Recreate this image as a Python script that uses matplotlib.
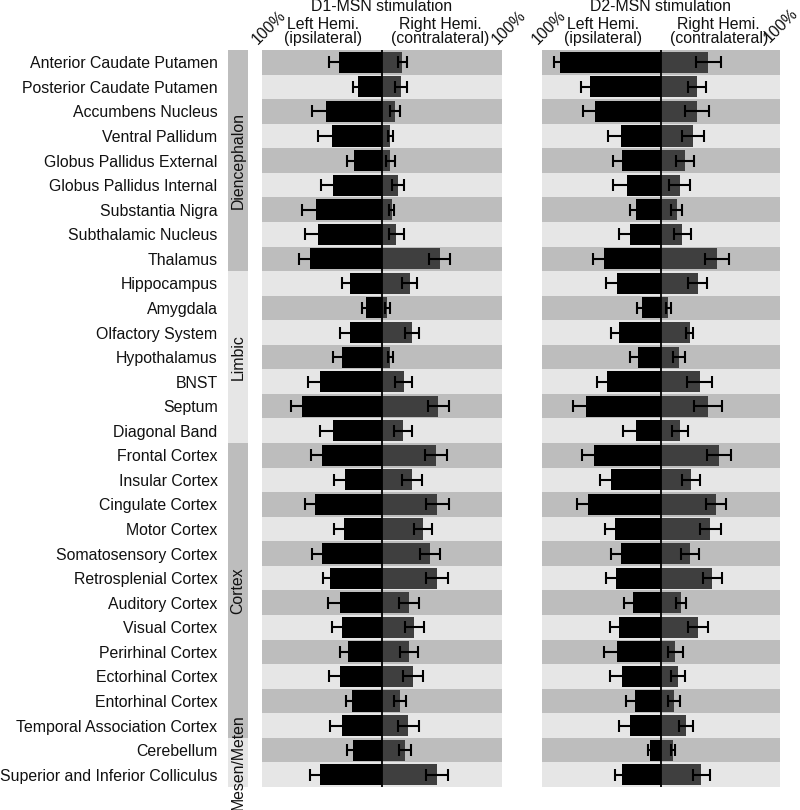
import matplotlib
matplotlib.use("Agg")
import matplotlib.pyplot as plt
import numpy as np

plt.rcParams["font.family"] = ["Liberation Sans", "DejaVu Sans"]

REGIONS = [
    "Anterior Caudate Putamen", "Posterior Caudate Putamen", "Accumbens Nucleus",
    "Ventral Pallidum", "Globus Pallidus External", "Globus Pallidus Internal",
    "Substantia Nigra", "Subthalamic Nucleus", "Thalamus",
    "Hippocampus", "Amygdala", "Olfactory System", "Hypothalamus", "BNST",
    "Septum", "Diagonal Band",
    "Frontal Cortex", "Insular Cortex", "Cingulate Cortex", "Motor Cortex",
    "Somatosensory Cortex", "Retrosplenial Cortex", "Auditory Cortex",
    "Visual Cortex", "Perirhinal Cortex", "Ectorhinal Cortex",
    "Entorhinal Cortex", "Temporal Association Cortex",
    "Cerebellum", "Superior and Inferior Colliculus",
]

GROUPS = ["Diencephalon", "Limbic", "Cortex", "Mesen/Meten"]
GROUP_SIZES = [9, 7, 12, 2]

# % of max, left (ipsilateral) and right (contralateral) hemisphere, with SEM
D1_LEFT = [36, 20, 47, 42, 23, 41, 55, 53, 60, 27, 13, 27, 33, 52, 67, 41,
           50, 31, 55.5, 32, 50, 43, 35, 33.5, 28, 35, 25, 33, 24, 51.6]
D1_LEFT_SEM = [8, 4, 11, 11, 6, 10, 12, 11, 9, 6, 4, 8, 8, 10, 9, 11,
               9, 9, 8.5, 8, 8.5, 6, 10, 8, 7, 9, 5, 10, 5, 8.4]
D1_RIGHT = [17, 16, 11, 7, 7, 13, 8, 12, 48, 23, 4.5, 25, 7, 18, 47, 17.5,
            45, 25, 46, 34, 40, 46, 22.6, 27, 22.6, 25.7, 15, 22, 19, 46]
D1_RIGHT_SEM = [4, 5, 4, 2, 4, 5, 2, 6, 9, 6, 2, 6, 2, 7, 9, 7.5,
                9, 8.5, 9.5, 7.5, 8, 9, 8.4, 7.6, 7.4, 8.3, 5, 9, 5, 9]

D2_LEFT = [85, 60, 55.5, 34, 33, 28.6, 21, 26, 48, 37, 16, 35, 19, 45, 63, 21,
           56.6, 42, 61, 39, 34, 37.5, 23.5, 35, 37, 33, 21.6, 26, 9, 33]
D2_LEFT_SEM = [5, 7, 10, 10.5, 7, 11.4, 5, 9, 9, 9, 4, 7, 7, 9, 11, 11,
               9.4, 9, 10, 8, 8, 8.5, 7.5, 7.6, 11, 9.6, 7.4, 9, 2, 6]
D2_RIGHT = [39.5, 30, 30, 27, 20.4, 15.6, 13.4, 18, 47, 31, 6, 24, 15, 32.5, 39.5, 16,
            49, 25.5, 46, 41.5, 24, 43, 17, 31, 12, 14, 10.6, 21, 10, 34]
D2_RIGHT_SEM = [10.5, 7.5, 10, 9, 7.6, 9, 4.6, 7, 10, 8, 2, 3, 5, 10.5, 12, 7,
                10, 7.5, 8.6, 8.5, 7.6, 8, 4, 8.5, 6.5, 6, 5, 6, 2, 7]

PANELS = [
    ("D1-MSN stimulation", D1_LEFT, D1_LEFT_SEM, D1_RIGHT, D1_RIGHT_SEM),
    ("D2-MSN stimulation", D2_LEFT, D2_LEFT_SEM, D2_RIGHT, D2_RIGHT_SEM),
]

DARK = "#bdbdbd"
LIGHT = "#e6e6e6"
RIGHT_COLOR = "#3f3f3f"
FS = 11.4

fig = plt.figure(figsize=(8, 8.1), dpi=100)
bottom, top = 0.0284, 0.9383
panel_x = [(0.3275, 0.300), (0.6775, 0.2975)]

n = len(REGIONS)
y = np.arange(n)

for i, (title, left, left_sem, right, right_sem) in enumerate(PANELS):
    x0, w = panel_x[i]
    ax = fig.add_axes([x0, bottom, w, top - bottom])
    for k in range(n):
        ax.axhspan(k - 0.5, k + 0.5, color=DARK if k % 2 == 0 else LIGHT, lw=0, zorder=0)
    ax.barh(y, -np.array(left), height=0.86, color="black", zorder=2)
    ax.barh(y, right, height=0.86, color=RIGHT_COLOR, zorder=2)
    ax.errorbar(-np.array(left), y, xerr=left_sem, fmt="none", ecolor="black",
                elinewidth=1.5, capsize=4.3, capthick=1.5, zorder=3)
    ax.errorbar(right, y, xerr=right_sem, fmt="none", ecolor="black",
                elinewidth=1.5, capsize=4.3, capthick=1.5, zorder=3)
    ax.axvline(0, color="black", lw=1.3, zorder=4)
    ax.set_xlim(-100, 100)
    ax.set_ylim(n - 0.5, -0.5)
    for s in ax.spines.values():
        s.set_visible(False)
    ax.set_xticks([])
    if i == 0:
        ax.set_yticks(y)
        ax.set_yticklabels(REGIONS, fontsize=FS, color="#111111")
        ax.tick_params(axis="y", length=0, pad=32)
    else:
        ax.set_yticks([])

    tr = ax.get_xaxis_transform()
    ax.annotate(title, xy=(0, 1), xycoords=tr, xytext=(0, 31), textcoords="offset points",
                ha="center", va="center", fontsize=FS, color="#111111")
    ax.annotate("Left Hemi.\n(ipsilateral)", xy=(-49, 1), xycoords=tr, xytext=(0, 13.5),
                textcoords="offset points", ha="center", va="center", fontsize=FS,
                color="#111111", linespacing=0.95)
    ax.annotate("Right Hemi.\n(contralateral)", xy=(48.5, 1), xycoords=tr, xytext=(0, 13.5),
                textcoords="offset points", ha="center", va="center", fontsize=FS,
                color="#111111", linespacing=0.95)
    for xe, dx, dy in ((-100, 5, 16), (100, 5 if i == 0 else 1, 16 if i == 0 else 18)):
        ax.annotate("100%", xy=(xe, 1), xycoords=tr, xytext=(dx, dy),
                    textcoords="offset points", ha="center", va="center",
                    rotation=45, fontsize=FS, color="#111111")

# group strip
gax = fig.add_axes([0.285, bottom, 0.025, top - bottom])
start = 0
for j, (g, size) in enumerate(zip(GROUPS, GROUP_SIZES)):
    gax.barh(start - 0.5, 1, height=size, align="edge",
             color=DARK if j % 2 == 0 else LIGHT, lw=0)
    gax.text(0.5, start - 0.5 + size / 2, g, rotation=90, ha="center", va="center",
             fontsize=FS, color="#111111", clip_on=False)
    start += size
gax.set_xlim(0, 1)
gax.set_ylim(n - 0.5, -0.5)
gax.axis("off")

fig.savefig("out.png", dpi=100)
